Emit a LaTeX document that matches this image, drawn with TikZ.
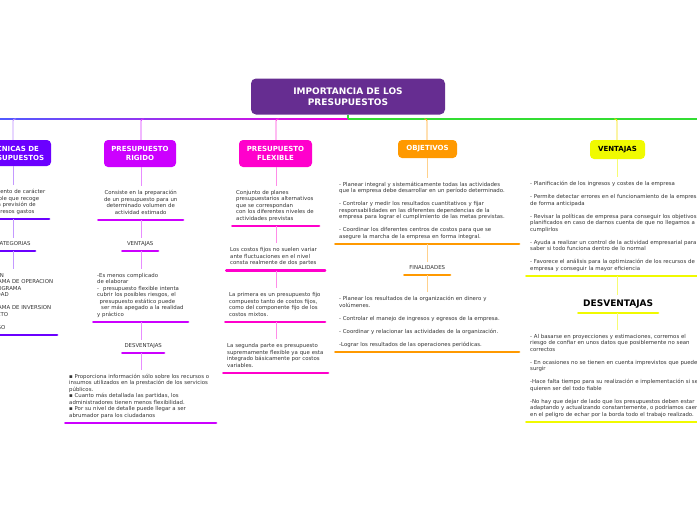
\documentclass[tikz,border=0pt]{standalone}
\usepackage{fontspec}
\setmainfont{DejaVu Sans}
\definecolor{tpurple}{HTML}{662D91}
\definecolor{cA}{HTML}{6B00FF}
\definecolor{cB}{HTML}{CC00FF}
\definecolor{cC}{HTML}{FF00CC}
\definecolor{cD}{HTML}{FF9900}
\definecolor{cE}{HTML}{F0FA00}
\definecolor{gbar}{HTML}{33DD33}
\definecolor{txtc}{HTML}{333333}
\definecolor{gL}{RGB}{80,90,255}
\definecolor{gM}{RGB}{170,30,255}
\definecolor{gR}{RGB}{240,0,220}
\newcommand\lns[1]{\noindent\begin{tabular}{@{}l@{}}#1\end{tabular}}
\newcommand\lnc[1]{\noindent\begin{tabular}{@{}c@{}}#1\end{tabular}}
\newcommand\uline[2]{\draw[ul,#2] ([xshift=1.3pt]#1.south west) -- ([xshift=-1.3pt]#1.south east);}
\tikzset{
  box/.style={rounded corners=4pt, text=white, font=\fontsize{7}{9}\selectfont\bfseries, align=center, inner sep=0pt},
  blk/.style={anchor=south west, inner xsep=5pt, inner ysep=3.6pt, font=\fontsize{5.4}{6.5}\selectfont, text=txtc, align=left},
  lbl/.style={blk, inner xsep=2pt, inner ysep=3.1pt, align=center},
  ul/.style={line width=2.6pt, line cap=round},
  cn/.style={line width=0.9pt},
}
\begin{document}
\begin{tikzpicture}[x=1pt,y=-1pt]
\useasboundingbox (0,0) rectangle (697,520);
\clip (0,0) rectangle (697,520);
% column coordinates
\coordinate (x1) at (13,0);
\coordinate (x2) at (141,0);
\coordinate (x3) at (276,0);
\coordinate (x4) at (427,0);
\coordinate (x5) at (617,0);
\coordinate (hub) at (348,119);
\coordinate (barR) at (697,119);
\coordinate (j1) at (13,119);
\coordinate (j2) at (141,119);
\coordinate (j3) at (276,119);
\coordinate (j4) at (427,119);
\coordinate (j5) at (617,119);

% title
\node[box, fill=tpurple, font=\fontsize{9}{10.6}\selectfont\bfseries, minimum width=194pt, minimum height=36pt, rounded corners=5pt] (title) at (348,96.5) {IMPORTANCIA DE LOS\\PRESUPUESTOS};

% bar
\shade[left color=gL, middle color=gM, right color=gR] (0,118.4) rectangle (348,119.6);
\draw[line width=1.2pt, gbar] (title.south) -- (hub);
\draw[line width=1.2pt, gbar] (hub) -- (barR);

% main boxes
\node[box, fill=cA, minimum width=76pt, minimum height=26pt] (B1) at (13,153) {TÉCNICAS DE\\PRESUPUESTOS};
\node[box, fill=cB, minimum width=72pt, minimum height=27pt] (B2) at (140,153.5) {PRESUPUESTO\\RIGIDO};
\node[box, fill=cC, minimum width=73pt, minimum height=27pt] (B3) at (275.5,153.5) {PRESUPUESTO\\FLEXIBLE};
\node[box, fill=cD, minimum width=59pt, minimum height=18pt] (B4) at (427.5,149) {OBJETIVOS};
\node[box, fill=cE, text=black, minimum width=55pt, minimum height=19pt] (B5) at (617.5,149.5) {VENTAJAS};

% branches from bar
\draw[cn, cA!45, rounded corners=2pt] ([xshift=3pt]j1) -- (j1) -- (B1.north);
\draw[cn, cB!80, rounded corners=2pt] ([xshift=3pt]j2) -- (j2) -- (B2.north -| j2);
\draw[cn, cC!75, rounded corners=2pt] ([xshift=3pt]j3) -- (j3) -- (B3.north -| j3);
\draw[cn, cD!85, rounded corners=2pt] ([xshift=-3pt]j4) -- (j4) -- (B4.north -| j4);
\draw[cn, cE!80!orange, rounded corners=2pt] ([xshift=-3pt]j5) -- (j5) -- (B5.north -| j5);

% column 1
\node[blk, align=center, text width=64pt] (T1a) at (-24,219) {\lnc{Documento de carácter\\flexible que recoge\\una previsión de\\ingresos gastos}};
\node[lbl, text width=42pt] (T1b) at (-10,251) {\lnc{CATEGORIAS}};
\node[blk, text width=74pt] (T1c) at (-26,335) {\lns{FUNCION\\PROGRAMA DE OPERACION\\SUBPROGRAMA\\ACTIVIDAD\\ \\PROGRAMA DE INVERSION\\PROYECTO\\ \\PROCESO}};
\uline{T1a}{cA}\uline{T1b}{cA}\uline{T1c}{cA}
\draw[cn, cA!40] (B1.south -| x1) -- (T1a.north -| x1);
\draw[cn, cA!40] (T1a.south -| x1) -- (T1b.north -| x1);
\draw[cn, cA!40] (T1b.south -| x1) -- (T1c.north -| x1);

% column 2
\node[blk, align=center, text width=77pt] (T2a) at (97,220) {\lnc{Consiste en la preparación\\de un presupuesto para un\\determinado volumen de\\actividad estimado}};
\node[lbl, text width=34pt] (T2b) at (121,251) {\lnc{VENTAJAS}};
\node[blk, text width=87pt] (T2c) at (92,322) {\lns{-Es menos complicado\\de elaborar\\-\hspace{4pt}presupuesto flexible intenta\\cubrir los posibles riesgos, el\\\hspace*{2.5pt}presupuesto estático puede\\\hspace*{4pt}ser más apegado a la realidad\\y práctico}};
\node[lbl, text width=40pt] (T2d) at (121,353) {\lnc{DESVENTAJAS}};
\node[blk, text width=143pt] (T2e) at (64,423) {\lns{▪ Proporciona información sólo sobre los recursos o\\insumos utilizados en la prestación de los servicios\\públicos.\\▪ Cuanto más detallada las partidas, los\\administradores tienen menos flexibilidad.\\▪ Por su nivel de detalle puede llegar a ser\\abrumador para los ciudadanos}};
\uline{T2a}{cB}\uline{T2b}{cB}\uline{T2c}{cB}\uline{T2d}{cB}\uline{T2e}{cB}
\draw[cn, cB!45] (B2.south -| x2) -- (T2a.north -| x2);
\draw[cn, cB!45] (T2a.south -| x2) -- (T2b.north -| x2);
\draw[cn, cB!45] (T2b.south -| x2) -- (T2c.north -| x2);
\draw[cn, cB!45] (T2c.south -| x2) -- (T2d.north -| x2);
\draw[cn, cB!45] (T2d.south -| x2) -- (T2e.north -| x2);

% column 3
\node[blk, text width=79pt] (T3a) at (231,226) {\lns{Conjunto de planes\\presupuestarios alternativos\\que se correspondan\\con los diferentes niveles de\\actividades previstas}};
\node[blk, text width=91pt] (T3b) at (225,270.5) {\lns{Los costos fijos no suelen variar\\ante fluctuaciones en el nivel\\consta realmente de dos partes}};
\node[blk, text width=92pt] (T3c) at (224,322) {\lns{La primera es un presupuesto fijo\\compuesto tanto de costos fijos,\\como del componente fijo de los\\costos mixtos.}};
\node[blk, text width=97pt] (T3d) at (222,373) {\lns{La segunda parte es presupuesto\\supremamente flexible ya que esta\\integrado básicamente por costos\\variables.}};
\uline{T3a}{cC}\uline{T3b}{cC}\uline{T3c}{cC}\uline{T3d}{cC}
\draw[cn, cC!45] (B3.south -| x3) -- (T3a.north -| x3);
\draw[cn, cC!45] (T3a.south -| x3) -- (T3b.north -| x3);
\draw[cn, cC!45] (T3b.south -| x3) -- (T3c.north -| x3);
\draw[cn, cC!45] (T3c.south -| x3) -- (T3d.north -| x3);

% column 4
\node[blk, text width=176pt] (T4a) at (334,244) {\lns{- Planear integral y sistemáticamente todas las actividades\\que la empresa debe desarrollar en un período determinado.\\ \\- Controlar y medir los resultados cuantitativos y fijar\\responsabilidades en las diferentes dependencias de la\\empresa para lograr el cumplimiento de las metas previstas.\\ \\- Coordinar los diferentes centros de costos para que se\\asegure la marcha de la empresa en forma integral.}};
\node[lbl, text width=44pt] (T4b) at (403,275) {\lnc{FINALIDADES}};
\node[blk, text width=176pt] (T4c) at (334,352) {\lns{- Planear los resultados de la organización en dinero y\\volúmenes.\\ \\- Controlar el manejo de ingresos y egresos de la empresa.\\ \\- Coordinar y relacionar las actividades de la organización.\\ \\-Lograr los resultados de las operaciones periódicas.}};
\uline{T4a}{cD}\uline{T4b}{cD}\uline{T4c}{cD}
\draw[cn, cD!45] (B4.south -| x4) -- (T4a.north -| x4);
\draw[cn, cD!45] (T4a.south -| x4) -- (T4b.north -| x4);
\draw[cn, cD!45] (T4b.south -| x4) -- (T4c.north -| x4);

% column 5
\node[blk, text width=185pt] (T5a) at (525,276) {\lns{- Planificación de los ingresos y costes de la empresa\\ \\- Permite detectar errores en el funcionamiento de la empresa\\de forma anticipada\\ \\- Revisar la políticas de empresa para conseguir los objetivos\\planificados en caso de darnos cuenta de que no llegamos a\\cumplirlos\\ \\- Ayuda a realizar un control de la actividad empresarial para\\saber si todo funciona dentro de lo normal\\ \\- Favorece el análisis para la optimización de los recursos de la\\empresa y conseguir la mayor eficiencia}};
\node[lbl, text width=78pt, text=black, font=\fontsize{9}{10}\selectfont\bfseries, inner ysep=3.7pt] (T5b) at (577,313) {\lnc{DESVENTAJAS}};
\node[blk, text width=185pt] (T5c) at (525,422) {\lns{- Al basarse en proyecciones y estimaciones, corremos el\\riesgo de confiar en unos datos que posiblemente no sean\\correctos\\ \\- En ocasiones no se tienen en cuenta imprevistos que pueden\\surgir\\ \\-Hace falta tiempo para su realización e implementación si se\\quieren ser del todo fiable\\ \\-No hay que dejar de lado que los presupuestos deben estar\\adaptando y actualizando constantemente, o podríamos caer\\en el peligro de echar por la borda todo el trabajo realizado.}};
\uline{T5a}{cE}\uline{T5b}{cE}\uline{T5c}{cE}
\draw[cn, cE!55] (B5.south -| x5) -- (T5a.north -| x5);
\draw[cn, cE!55] (T5a.south -| x5) -- (T5b.north -| x5);
\draw[cn, cE!55] (T5b.south -| x5) -- (T5c.north -| x5);
\end{tikzpicture}
\end{document}
